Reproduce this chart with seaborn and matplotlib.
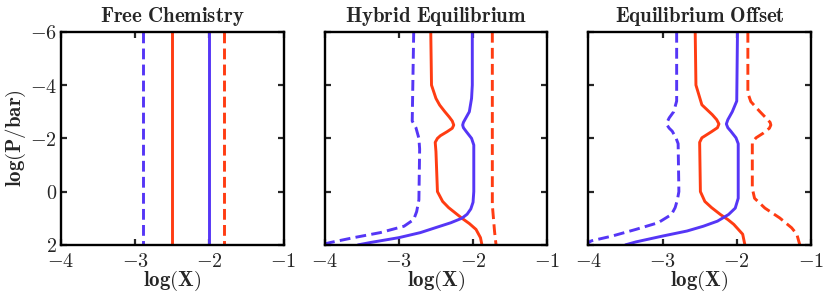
import numpy as np
import pandas as pd
import matplotlib
matplotlib.use("Agg")
import matplotlib.pyplot as plt
import seaborn as sns
from matplotlib.ticker import FuncFormatter

# ---------------- data ----------------
titles = ["Free Chemistry", "Hybrid Equilibrium", "Equilibrium Offset"]

# Panel 1: Free chemistry (constant abundances)
free_P = [-6, 2]
free_blue_solid = [-2.00, -2.00]
free_red_solid = [-2.50, -2.50]
free_blue_dash = [-2.90, -2.90]
free_red_dash = [-1.80, -1.80]

# Panel 2: Hybrid equilibrium
hyb_blue_solid_P = [-6, -4, -3.5, -3.0, -2.75, -2.6, -2.5, -2.4, -2.25, -2.0, -1.75, 0.0, 0.4, 0.65, 0.85, 1.0, 1.17, 1.35, 1.54, 1.73, 1.91, 2.0]
hyb_blue_solid_X = [-2.01, -2.01, -2.02, -2.05, -2.10, -2.13, -2.14, -2.13, -2.09, -2.02, -1.99, -1.99, -2.00, -2.03, -2.08, -2.15, -2.30, -2.50, -2.71, -3.00, -3.38, -3.55]
hyb_red_solid_P = [-6, -4, -3.5, -3.25, -3.0, -2.8, -2.65, -2.5, -2.38, -2.25, -2.1, -2.0, -1.85, -1.5, 0.0, 0.37, 0.6, 0.8, 1.0, 1.2, 1.42, 1.73, 2.0]
hyb_red_solid_X = [-2.57, -2.56, -2.50, -2.45, -2.38, -2.32, -2.28, -2.26, -2.28, -2.35, -2.44, -2.48, -2.51, -2.50, -2.48, -2.41, -2.33, -2.24, -2.15, -2.05, -1.96, -1.90, -1.88]
hyb_blue_dash_P = [-6, -2.65, -2.4, -2.0, -1.6, 0.31, 0.75, 1.05, 1.30, 1.54, 1.73, 1.91, 2.0]
hyb_blue_dash_X = [-2.80, -2.82, -2.77, -2.73, -2.72, -2.73, -2.76, -2.80, -2.93, -3.25, -3.61, -3.92, -4.05]
hyb_red_dash_P = [-6, 0.5, 1.5, 2.0]
hyb_red_dash_X = [-1.74, -1.74, -1.71, -1.69]

# Panel 3: Equilibrium offset
off_red_solid_P = [-6, -4, -3.26, -2.89, -2.7, -2.54, -2.4, -2.25, -2.02, -1.85, 0.0, 0.37, 0.6, 0.86, 1.05, 1.23, 1.6, 2.0]
off_red_solid_X = [-2.56, -2.55, -2.47, -2.33, -2.27, -2.24, -2.26, -2.34, -2.47, -2.50, -2.49, -2.43, -2.34, -2.22, -2.12, -2.04, -1.92, -1.89]
off_blue_solid_P = [-6, -3.4, -3.0, -2.7, -2.54, -2.4, -2.27, -2.02, -1.8, 0.25, 0.62, 0.86, 1.11, 1.3, 1.48, 1.67, 1.89, 2.0]
off_blue_solid_X = [-1.99, -2.00, -2.06, -2.12, -2.14, -2.12, -2.08, -2.01, -1.98, -1.98, -2.02, -2.11, -2.26, -2.45, -2.67, -3.00, -3.36, -3.50]
off_blue_dash_P = [-6, -3.4, -3.0, -2.77, -2.6, -2.5, -2.38, -2.27, -2.02, -1.8, 0.0, 0.31, 0.6, 0.86, 1.17, 1.42, 1.67, 1.85, 2.0]
off_blue_dash_X = [-2.81, -2.81, -2.85, -2.91, -2.94, -2.94, -2.91, -2.87, -2.82, -2.79, -2.78, -2.80, -2.83, -2.88, -3.06, -3.36, -3.68, -3.96, -4.05]
off_red_dash_P = [-6, -3.7, -3.38, -3.01, -2.75, -2.6, -2.5, -2.38, -2.2, -2.02, -1.85, -0.12, 0.25, 0.62, 0.99, 1.36, 1.6, 2.0]
off_red_dash_X = [-1.85, -1.85, -1.81, -1.69, -1.60, -1.55, -1.54, -1.56, -1.64, -1.74, -1.79, -1.79, -1.76, -1.62, -1.42, -1.26, -1.19, -1.15]

x_ticks = [-4, -3, -2, -1]
y_ticks = [-6, -4, -2, 0, 2]

BLUE = "#5536f6"
RED = "#ff3c12"

# ---------------- style ----------------
sns.set_theme(style="ticks")
plt.rcParams["mathtext.fontset"] = "cm"
plt.rcParams["font.family"] = ["DejaVu Serif"]
plt.rcParams["lines.dashed_pattern"] = [3.7, 1.8]
FS = 15

panels = [
    [(free_P, free_blue_dash, BLUE, "--"), (free_P, free_red_solid, RED, "-"),
     (free_P, free_blue_solid, BLUE, "-"), (free_P, free_red_dash, RED, "--")],
    [(hyb_blue_dash_P, hyb_blue_dash_X, BLUE, "--"), (hyb_red_solid_P, hyb_red_solid_X, RED, "-"),
     (hyb_blue_solid_P, hyb_blue_solid_X, BLUE, "-"), (hyb_red_dash_P, hyb_red_dash_X, RED, "--")],
    [(off_blue_dash_P, off_blue_dash_X, BLUE, "--"), (off_red_solid_P, off_red_solid_X, RED, "-"),
     (off_blue_solid_P, off_blue_solid_X, BLUE, "-"), (off_red_dash_P, off_red_dash_X, RED, "--")],
]

fig, axes = plt.subplots(1, 3, figsize=(8.3, 2.95), dpi=100)
fig.subplots_adjust(left=0.0735, right=0.977, bottom=0.17, top=0.892, wspace=0.185)

fmt = FuncFormatter(lambda v, _: r"$\mathbf{%d}$" % round(v))

for i, (ax, curves) in enumerate(zip(axes, panels)):
    for P, X, col, ls in curves:
        df = pd.DataFrame({"logX": X, "logP": P})
        sns.lineplot(data=df, x="logX", y="logP", sort=False, ax=ax,
                     color=col, linestyle=ls, linewidth=2.1, estimator=None)
    ax.set_xlim(-4, -1)
    ax.set_ylim(2, -6)
    ax.set_xticks(x_ticks)
    ax.set_yticks(y_ticks)
    ax.xaxis.set_major_formatter(fmt)
    ax.yaxis.set_major_formatter(fmt)
    ax.tick_params(direction="in", length=4.5, width=1.6, top=True, right=True,
                   labelsize=FS - 0.5)
    ax.tick_params(axis="x", pad=5)
    ax.tick_params(axis="y", pad=3)
    for lab in ax.get_yticklabels():
        lab.set_verticalalignment("center_baseline")
    for s in ax.spines.values():
        s.set_linewidth(1.7)
        s.set_color("black")
    ax.set_title(r"$\mathbf{%s}$" % titles[i].replace(" ", r"\ "), fontsize=FS, pad=7)
    ax.set_xlabel(r"$\mathbf{log(X)}$", fontsize=FS, labelpad=-1.5)
    if i == 0:
        ax.set_ylabel(r"$\mathbf{log(P/bar)}$", fontsize=FS, labelpad=1)
    else:
        ax.set_ylabel("")
        ax.tick_params(labelleft=False)

fig.savefig("out.png", dpi=100)
